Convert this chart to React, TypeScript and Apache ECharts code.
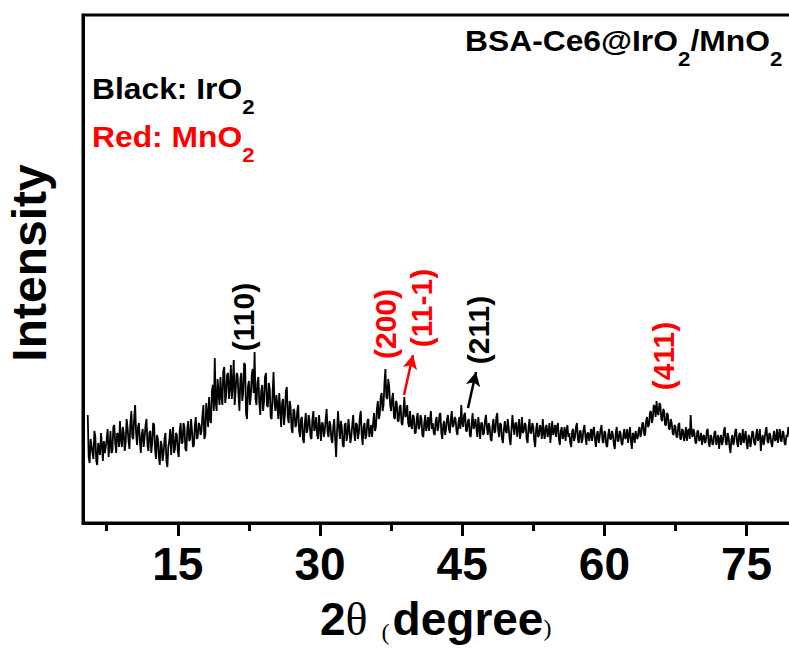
import React, { useEffect, useRef } from 'react';
import * as echarts from 'echarts';

// XRD scan of BSA-Ce6@IrO2/MnO2: 2θ grid (degrees) and counts (arb. units), one row per 2°
const scanStart = 5.5;
const scanStep = 0.1;
const intensity: number[] = [
  108, 66, 60, 84, 78, 70, 64, 92, 86, 62, 58, 80, 74, 68, 90, 78, 62, 82, 70, 76,
  84, 94, 66, 78, 92, 70, 72, 96, 98, 80, 70, 90, 88, 76, 102, 84, 76, 96, 90, 72,
  80, 104, 96, 82, 74, 100, 112, 86, 84, 106, 118, 90, 78, 96, 100, 82, 70, 88, 94, 76,
  86, 98, 104, 78, 72, 90, 92, 70, 80, 100, 98, 74, 64, 88, 84, 66, 58, 82, 78, 62,
  70, 84, 90, 62, 56, 76, 82, 94, 68, 86, 96, 70, 74, 90, 88, 72, 66, 92, 100, 80,
  80, 100, 96, 74, 72, 94, 102, 82, 84, 104, 92, 76, 78, 98, 106, 84, 86, 100, 98, 88,
  92, 108, 118, 84, 88, 120, 110, 96, 126, 104, 100, 132, 138, 112, 165, 120, 112, 144, 130, 118,
  146, 126, 118, 152, 156, 120, 128, 148, 150, 124, 136, 158, 124, 140, 163, 118, 132, 150, 148, 128,
  112, 144, 150, 122, 130, 160, 158, 110, 104, 136, 142, 118, 126, 148, 154, 130, 171, 124, 118, 140,
  146, 120, 108, 132, 138, 112, 122, 146, 150, 118, 116, 140, 134, 106, 104, 130, 151, 120, 112, 128,
  118, 104, 130, 114, 96, 120, 124, 98, 108, 132, 136, 106, 100, 122, 116, 94, 90, 114, 112, 96,
  98, 112, 118, 92, 86, 104, 106, 84, 80, 100, 110, 90, 94, 108, 102, 86, 84, 104, 112, 92,
  96, 106, 88, 84, 108, 96, 82, 100, 100, 86, 92, 104, 114, 90, 86, 102, 98, 84, 80, 96,
  104, 84, 66, 92, 112, 96, 84, 102, 96, 78, 76, 98, 100, 82, 88, 104, 94, 80, 86, 98,
  108, 90, 82, 100, 98, 84, 90, 106, 112, 88, 78, 96, 100, 84, 88, 102, 104, 86, 92, 98,
  86, 100, 110, 92, 96, 114, 122, 104, 108, 126, 130, 112, 118, 140, 154, 126, 124, 144, 136, 118,
  112, 124, 130, 106, 104, 122, 120, 102, 102, 116, 118, 100, 98, 112, 126, 106, 108, 118, 100, 96,
  112, 98, 94, 108, 106, 90, 90, 104, 110, 94, 96, 108, 104, 88, 86, 100, 108, 92, 98, 106,
  92, 104, 112, 94, 100, 90, 88, 102, 106, 92, 96, 108, 110, 90, 84, 98, 102, 88, 94, 104,
  108, 94, 90, 104, 112, 96, 98, 106, 104, 92, 88, 100, 106, 94, 118, 100, 96, 108, 110, 92,
  92, 102, 104, 88, 86, 100, 110, 94, 98, 104, 94, 86, 106, 96, 84, 100, 100, 88, 90, 102,
  108, 96, 88, 100, 96, 84, 82, 98, 104, 90, 92, 106, 110, 92, 86, 100, 98, 84, 80, 94,
  102, 92, 90, 104, 96, 84, 78, 94, 108, 96, 88, 100, 100, 86, 94, 104, 84, 92, 106, 90,
  92, 100, 98, 84, 80, 96, 104, 90, 90, 100, 96, 82, 76, 94, 100, 86, 88, 98, 94, 84,
  104, 90, 84, 96, 98, 86, 90, 100, 80, 92, 102, 88, 92, 98, 86, 96, 100, 84, 78, 92,
  96, 84, 88, 96, 82, 92, 98, 86, 90, 80, 76, 92, 94, 82, 86, 96, 100, 84, 80, 92,
  92, 80, 84, 94, 98, 86, 78, 90, 90, 82, 88, 94, 82, 92, 96, 84, 76, 88, 92, 80,
  86, 94, 98, 82, 80, 92, 90, 78, 76, 88, 94, 84, 84, 92, 88, 78, 74, 90, 96, 82,
  82, 92, 90, 80, 78, 88, 94, 84, 86, 94, 80, 88, 96, 82, 74, 90, 88, 80, 92, 86,
  84, 92, 96, 86, 90, 100, 100, 88, 88, 102, 106, 96, 98, 110, 112, 100, 104, 118, 116, 106,
  122, 110, 108, 120, 118, 104, 102, 114, 112, 98, 98, 110, 108, 94, 94, 104, 100, 90, 88, 98,
  96, 86, 86, 98, 100, 84, 84, 94, 92, 82, 88, 96, 82, 92, 94, 84, 108, 90, 86, 94,
  90, 80, 80, 92, 92, 82, 84, 90, 78, 86, 88, 80, 82, 92, 94, 80, 76, 88, 86, 78,
  80, 90, 92, 78, 84, 88, 74, 84, 88, 78, 82, 92, 96, 80, 78, 90, 86, 76, 70, 84,
  88, 78, 82, 92, 94, 80, 76, 88, 90, 78, 84, 94, 80, 86, 92, 80, 74, 88, 86, 76,
  82, 92, 90, 80, 78, 88, 94, 82, 86, 94, 72, 84, 88, 78, 84, 92, 96, 82, 80, 90,
  88, 80, 76, 86, 92, 82, 84, 94, 80, 88, 94, 82, 82, 92, 90, 80, 78, 88, 86, 96,
  92, 82, 80, 90, 88,
];

const majorTicks = [15, 30, 45, 60, 75];
const minorTicks = [7.5, 22.5, 37.5, 52.5, 67.5];

const SANS = '"Liberation Sans", Arial, Helvetica, sans-serif';
const SERIF = '"Liberation Serif", "Times New Roman", serif';
const RED = '#ff0000';

// main text + lowered subscript digits
const subRich = {
  m: { fontSize: 30, fontWeight: 'bold', fontFamily: SANS, lineHeight: 34, verticalAlign: 'top' },
  s: { fontSize: 21, fontWeight: 'bold', fontFamily: SANS, lineHeight: 21, verticalAlign: 'top', padding: [22, 0, 0, 0] },
};

function peakLabel(text: string, color: string, x: number, y: number) {
  return {
    type: 'text',
    x,
    y,
    rotation: Math.PI / 2,
    style: {
      text,
      fill: color,
      font: `bold 30px ${SANS}`,
      align: 'center',
      verticalAlign: 'middle',
    },
  };
}

export default function App() {
  const ref = useRef<HTMLDivElement>(null);

  useEffect(() => {
    if (!ref.current) return;
    const chart = echarts.init(ref.current, undefined, { renderer: 'svg' });
    const points = intensity.map((v, i) => [+(scanStart + i * scanStep).toFixed(2), v]);

    const option: any = {
      animation: false,
      grid: {
        left: 83,
        right: 6,
        top: 15,
        bottom: 127,
        show: true,
        borderColor: '#000',
        borderWidth: 3,
        backgroundColor: 'transparent',
      },
      xAxis: [
        {
          type: 'value',
          min: 5,
          max: 80,
          position: 'bottom',
          axisLine: { show: true, onZero: false, lineStyle: { color: '#000', width: 3 } },
          axisTick: { show: true, length: 13, customValues: majorTicks, lineStyle: { color: '#000', width: 3 } },
          axisLabel: {
            customValues: majorTicks,
            fontSize: 46,
            fontWeight: 'bold',
            fontFamily: SANS,
            color: '#000',
            margin: 18,
          },
          splitLine: { show: false },
        },
        {
          type: 'value',
          min: 5,
          max: 80,
          position: 'bottom',
          axisLine: { show: false, onZero: false },
          axisTick: { show: true, length: 8, customValues: minorTicks, lineStyle: { color: '#000', width: 3 } },
          axisLabel: { show: false },
          splitLine: { show: false },
        },
      ],
      yAxis: {
        type: 'value',
        min: 0,
        max: 508,
        axisLine: { show: true, lineStyle: { color: '#000', width: 3 } },
        axisTick: { show: false },
        axisLabel: { show: false },
        splitLine: { show: false },
      },
      series: [
        {
          type: 'line',
          xAxisIndex: 0,
          data: points,
          symbol: 'none',
          showSymbol: false,
          lineStyle: { color: '#000', width: 1.8 },
          markLine: {
            silent: true,
            symbol: ['none', 'arrow'],
            symbolSize: [11, 14],
            label: { show: false },
            data: [
              [
                { coord: [38.86, 128], lineStyle: { color: RED, width: 2.5, type: 'solid' }, itemStyle: { color: RED } },
                { coord: [39.81, 168] },
              ],
              [
                { coord: [45.61, 115], lineStyle: { color: '#000', width: 2.5, type: 'solid' }, itemStyle: { color: '#000' } },
                { coord: [46.46, 151] },
              ],
            ],
          },
        },
      ],
      graphic: [
        {
          type: 'text',
          x: 465,
          y: 26,
          scaleX: 1.06,
          style: { text: '{m|BSA-Ce6@IrO}{s|2}{m|/MnO}{s|2}', rich: subRich, fill: '#000', align: 'left', verticalAlign: 'top' },
        },
        {
          type: 'text',
          x: 92,
          y: 74,
          scaleX: 1.06,
          style: { text: '{m|Black: IrO}{s|2}', rich: subRich, fill: '#000', align: 'left', verticalAlign: 'top' },
        },
        {
          type: 'text',
          x: 92,
          y: 122,
          scaleX: 1.06,
          style: { text: '{m|Red: MnO}{s|2}', rich: subRich, fill: RED, align: 'left', verticalAlign: 'top' },
        },
        peakLabel('(110)', '#000', 243, 317),
        peakLabel('(200)', RED, 385, 324),
        peakLabel('(11-1)', RED, 421, 308),
        peakLabel('(211)', '#000', 478, 330),
        peakLabel('(411)', RED, 663, 356),
        {
          type: 'text',
          x: 29,
          y: 263,
          rotation: Math.PI / 2,
          style: { text: 'Intensity', font: `bold 48px ${SANS}`, fill: '#000', align: 'center', verticalAlign: 'middle' },
        },
        {
          type: 'text',
          x: 320,
          y: 596,
          style: {
            text: '{n|2}{t|θ}{l|(}{n|degree}{r|)}',
            fill: '#000',
            align: 'left',
            verticalAlign: 'top',
            rich: {
              n: { fontSize: 46, fontWeight: 'bold', fontFamily: SANS, lineHeight: 50, verticalAlign: 'top' },
              t: { fontSize: 46, fontWeight: 'normal', fontFamily: SERIF, lineHeight: 50, verticalAlign: 'top' },
              l: { fontSize: 24, fontWeight: 'normal', fontFamily: SERIF, lineHeight: 24, verticalAlign: 'top', padding: [24, 3, 0, 14] },
              r: { fontSize: 24, fontWeight: 'normal', fontFamily: SERIF, lineHeight: 24, verticalAlign: 'top', padding: [20, 0, 0, 0] },
            },
          },
        },
      ],
    };

    chart.setOption(option);
    return () => chart.dispose();
  }, []);

  return (
    <div style={{ position: 'fixed', left: 0, top: 0, width: 789, height: 650, overflow: 'hidden', background: '#fff' }}>
      <div ref={ref} style={{ width: 800, height: 650 }} />
    </div>
  );
}
